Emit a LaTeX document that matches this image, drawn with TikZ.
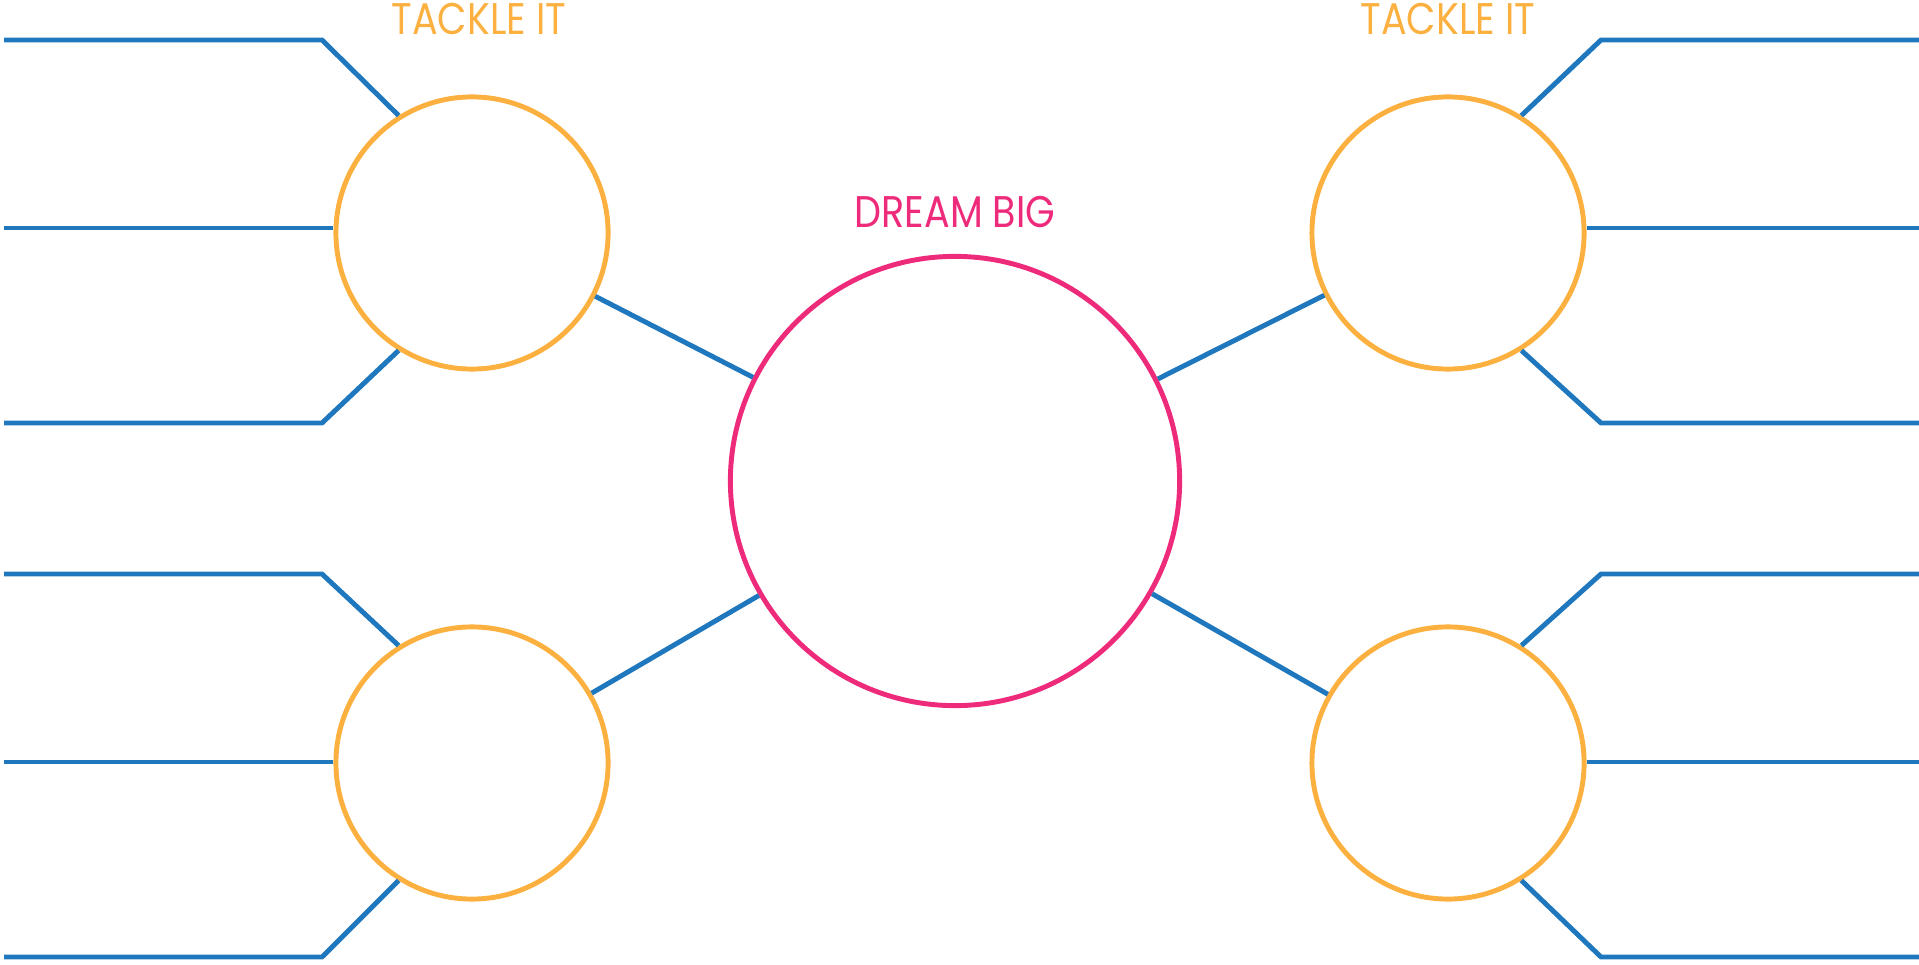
\documentclass[tikz,border=0pt]{standalone}
\usepackage{fontspec}
\newfontfamily\headfont{Poppins}[FakeStretch=0.86]
\usetikzlibrary{positioning}

\definecolor{lineblue}{HTML}{1F77BE}
\definecolor{tackleorange}{HTML}{FBB040}
\definecolor{dreampink}{HTML}{EE2A7B}

\begin{document}
\begin{tikzpicture}[x=0.01cm, y=-0.01cm,
    branch/.style={draw=lineblue, line width=1.4pt},
    goal/.style={circle, draw=dreampink, line width=1.4pt, minimum size=4.49cm, inner sep=0pt},
    task/.style={circle, draw=tackleorange, line width=1.4pt, minimum size=2.72cm, inner sep=0pt},
    heading/.style={inner sep=0pt, font=\headfont\fontsize{12.6}{14}\selectfont}]

      \useasboundingbox (0,0) rectangle (1919,964);

      % Define the circles
      \node[goal] (dream) at (955,481) {};
      \node[task] (tl) at (472,233) {};
      \node[task] (tr) at (1448,233) {};
      \node[task] (bl) at (472,763) {};
      \node[task] (br) at (1448,763) {};

      % Label the circles
      \node[heading, text=dreampink] (dreamtext) at (955,212) {DREAM BIG};
      \node[heading, text=tackleorange] (tltext) at (479,19) {TACKLE IT};
      \node[heading, text=tackleorange] (trtext) at (1448,19) {TACKLE IT};

      % Define line end points
      \coordinate (tlTop) at (4,40);     \coordinate (tlTopK) at (322,40);
      \coordinate (tlMid) at (4,228);
      \coordinate (tlBot) at (4,423);    \coordinate (tlBotK) at (322,423);
      \coordinate (trTop) at (1919,40);  \coordinate (trTopK) at (1601,40);
      \coordinate (trMid) at (1919,228);
      \coordinate (trBot) at (1919,423); \coordinate (trBotK) at (1601,423);
      \coordinate (blTop) at (4,574);    \coordinate (blTopK) at (322,574);
      \coordinate (blMid) at (4,762);
      \coordinate (blBot) at (4,957);    \coordinate (blBotK) at (322,957);
      \coordinate (brTop) at (1919,574); \coordinate (brTopK) at (1601,574);
      \coordinate (brMid) at (1919,762);
      \coordinate (brBot) at (1919,957); \coordinate (brBotK) at (1601,957);

      % Draw the spokes to the center
      \draw[branch] (dream) -- (tl);
      \draw[branch] (dream) -- (tr);
      \draw[branch] (dream) -- (bl);
      \draw[branch] (dream) -- (br);

      % Draw the outer lines
      \draw[branch] (tlTop) -- (tlTopK) -- (tl.122);
      \draw[branch] (tlMid) -- (tlMid -| tl.west);
      \draw[branch] (tlBot) -- (tlBotK) -- (tl.238);
      \draw[branch] (trTop) -- (trTopK) -- (tr.58);
      \draw[branch] (trMid) -- (trMid -| tr.east);
      \draw[branch] (trBot) -- (trBotK) -- (tr.-58);
      \draw[branch] (blTop) -- (blTopK) -- (bl.122);
      \draw[branch] (blMid) -- (blMid -| bl.west);
      \draw[branch] (blBot) -- (blBotK) -- (bl.238);
      \draw[branch] (brTop) -- (brTopK) -- (br.58);
      \draw[branch] (brMid) -- (brMid -| br.east);
      \draw[branch] (brBot) -- (brBotK) -- (br.-58);
    \end{tikzpicture}
\end{document}
